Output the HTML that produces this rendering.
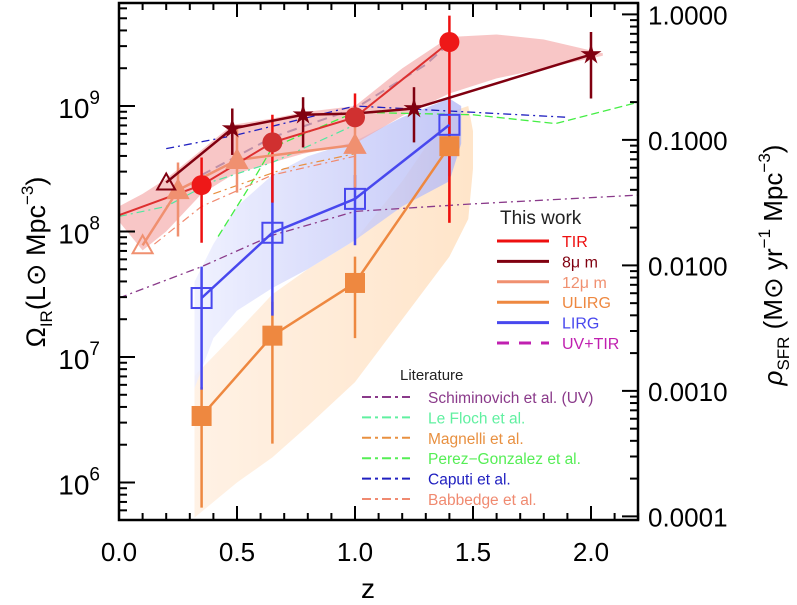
<!DOCTYPE html>
<html><head><meta charset="utf-8"><style>
html,body{margin:0;padding:0;background:#fff;}
svg{display:block;font-family:"Liberation Sans",sans-serif;}
</style></head><body>
<svg id="chart" width="797" height="605" viewBox="0 0 797 605" xmlns="http://www.w3.org/2000/svg">
<defs>
<linearGradient id="gBlue" x1="0" y1="0" x2="1" y2="0"><stop offset="0" stop-color="#eceeff"/><stop offset="1" stop-color="#b4b9f5"/></linearGradient>
<linearGradient id="gOrange" x1="0" y1="0" x2="1" y2="0"><stop offset="0" stop-color="#fff0e2"/><stop offset="1" stop-color="#ffe2c4"/></linearGradient>
</defs>
<g id="bands"></g>
<g id="lit"></g>
<g id="series"></g>
<g id="axes"></g>
<g id="legend"></g>
</svg>
<script>
// ---- data (log10 Omega_IR) ----
const tirZ=[0.0,0.35,0.65,1.0,1.4];
const tirV=[8.13,8.37,8.71,8.91,9.51];
const tirHi=[null,8.59,8.93,9.10,9.72];
const tirLo=[null,7.91,8.23,8.89,8.07];
const m8Z=[0.2,0.48,0.78,1.0,1.25,2.0];
const m8V=[8.39,8.82,8.93,8.94,8.98,9.41];
const m8Hi=[null,8.98,9.07,null,9.15,9.59];
const m8Lo=[null,8.61,8.67,null,8.71,9.06];
const m12Z=[0.1,0.25,0.5,1.0];
const m12V=[7.89,8.33,8.57,8.69];
const m12Hi=[null,8.55,8.83,8.93];
const m12Lo=[null,7.96,8.31,8.35];
const ulZ=[0.35,0.65,1.0,1.4];
const ulV=[6.53,7.17,7.59,8.68];
const ulHi=[6.76,7.44,7.80,8.9];
const ulLo=[5.80,6.31,7.15,8.07];
const liZ=[0.35,0.65,1.0,1.4];
const liV=[7.47,7.99,8.26,8.85];
const liHi=[7.72,8.45,8.45,9.06];
const liLo=[6.74,7.33,7.89,8.44];
const uvZ=[0.35,0.65,0.8,1.0,1.3,1.4];
const uvV=[8.45,8.75,8.85,8.98,9.33,9.5];
// bands
const redBandZ=[0,0.1,0.2,0.35,0.48,0.65,0.78,1.0,1.2,1.4,1.6,1.8,2.05];
const redBandHi=[8.2,8.3,8.42,8.65,8.85,8.9,8.95,9.0,9.3,9.55,9.57,9.53,9.42];
const redBandLo=[8.08,7.85,8.0,8.3,8.45,8.55,8.62,8.7,8.92,9.1,9.22,9.3,9.4];
const blueBandZ=[0.32,0.4,0.5,0.65,0.8,1.0,1.2,1.4,1.45];
const blueBandHi=[7.6,7.9,8.2,8.45,8.6,8.72,8.91,9.06,9.0];
const blueBandLo=[6.75,7.15,7.37,7.55,7.7,7.93,8.2,8.4,8.7];
const orBandZ=[0.32,0.5,0.65,0.8,1.0,1.2,1.4,1.48,1.5];
const orBandHi=[6.85,7.2,7.5,7.7,7.93,8.4,8.95,9.0,8.8];
const orBandLo=[5.72,6.0,6.2,6.45,6.8,7.3,7.8,8.1,8.5];
// literature
const schZ=[0,0.35,0.65,1.0,1.5,2.2];
const schV=[7.47,7.72,7.97,8.16,8.22,8.29];
const capZ=[0.2,0.5,1.0,1.5,1.9];
const capV=[8.66,8.77,9.0,8.95,8.91];
const perZ=[0.42,0.55,0.65,1.0,1.5,1.85,2.2];
const perV=[7.96,8.35,8.67,8.95,8.93,8.86,9.03];
const lefZ=[0.0,0.2,0.4,0.65,1.0];
const lefV=[8.12,8.2,8.4,8.55,8.85];
const babZ=[0.15,0.35,0.65,1.0];
const babV=[7.9,8.2,8.45,8.6];
const magZ=[0.4,0.7,1.0];
const magV=[8.3,8.5,8.62];
// axis ticks
const xTicks=[0.0,0.5,1.0,1.5,2.0];
const xTickLabels=["0.0","0.5","1.0","1.5","2.0"];
const yTicks=[6,7,8,9];
const rTickLabels=["1.0000","0.1000","0.0100","0.0010","0.0001"];
const rTickLogs=[0,-1,-2,-3,-4];

const L=119,R=638,T=3,B=520;
const X=z=>L+z*236;
const Y=v=>106+(9-v)*125.5;
const RY=r=>Y(r+9.73);
const NS="http://www.w3.org/2000/svg";
function mk(tag,attrs,parent){const e=document.createElementNS(NS,tag);for(const k in attrs)e.setAttribute(k,attrs[k]);parent.appendChild(e);return e;}
const gB=document.getElementById('bands'),gL=document.getElementById('lit'),gS=document.getElementById('series'),gA=document.getElementById('axes'),gG=document.getElementById('legend');

function band(zs,hi,lo,fill,op,name){
  let d='M'+zs.map((z,i)=>X(z)+','+Y(hi[i])).join('L');
  for(let i=zs.length-1;i>=0;i--)d+='L'+X(zs[i])+','+Y(lo[i]);
  const p=mk('path',{d:d+'Z',fill:fill,'fill-opacity':op},gB);
  
  
}
band(orBandZ,orBandHi,orBandLo,'url(#gOrange)',0.9,'ulirg-band');
band(blueBandZ,blueBandHi,blueBandLo,'url(#gBlue)',0.8,'lirg-band');
band(redBandZ,redBandHi,redBandLo,'#f4a8a8',0.65,'tir-band');

function line(zs,vs,color,w,dash,parent,name){
  const p=mk('polyline',{points:zs.map((z,i)=>X(z)+','+Y(vs[i])).join(' '),fill:'none',stroke:color,'stroke-width':w},parent);
  if(dash)p.setAttribute('stroke-dasharray',dash);
  
  
}
const dd='8,4,2,4';
line(schZ,schV,'#8a3a8a',1.3,dd,gL,'schiminovich-line');
line(capZ,capV,'#2020c0',1.3,dd,gL,'caputi-line');
line(perZ,perV,'#44ee44',1.3,'8,4',gL,'perez-gonzalez-line');
line(lefZ,lefV,'#50e8a0',1.2,dd,gL,'le-floch-line');
line(babZ,babV,'#f08a70',1.2,dd,gL,'babbedge-line');
line(magZ,magV,'#e89040',1.2,dd,gL,'magnelli-line');
line(uvZ,uvV,'#c090a8',2,'10,6',gL,'uv-tir-line');

function errs(zs,hi,lo,color,w,name){
  zs.forEach((z,i)=>{ if(hi[i]==null)return;
    const e=mk('line',{x1:X(z),x2:X(z),y1:Y(hi[i]),y2:Y(lo[i]),stroke:color,'stroke-width':w},gS);
    
    });
}
errs(ulZ,ulHi,ulLo,'#ee8840',2.5,'ulirg');
errs(liZ,liHi,liLo,'#4848ee',2.5,'lirg');
errs(m12Z,m12Hi,m12Lo,'#f09070',2.5,'12um');
errs(tirZ,tirHi,tirLo,'#ee1010',2.5,'tir');
errs(m8Z,m8Hi,m8Lo,'#800010',2.5,'8um');
line(ulZ,ulV,'#ee8840',2.5,null,gS,'ulirg-line');
line(liZ,liV,'#4848ee',2.5,null,gS,'lirg-line');
line(m12Z,m12V,'#f09070',2.5,null,gS,'12um-line');
line(tirZ,tirV,'#dd3030',2,null,gS,'tir-line');
line(m8Z,m8V,'#800010',2.5,null,gS,'8um-line');

ulZ.forEach((z,i)=>{const r=mk('rect',{x:X(z)-10,y:Y(ulV[i])-10,width:20,height:20,fill:'#ee8840'},gS);
 
 });
liZ.forEach((z,i)=>{const r=mk('rect',{x:X(z)-10,y:Y(liV[i])-10,width:20,height:20,fill:'none',stroke:'#4848ee','stroke-width':2},gS);
 
 });
m12Z.forEach((z,i)=>{const x=X(z),y=Y(m12V[i]);const open=i==0;
 const p=mk('polygon',{points:`${x},${y-10} ${x-10},${y+8} ${x+10},${y+8}`,fill:open?'none':'#f09070',stroke:'#f09070','stroke-width':2},gS);
 
 });
tirZ.forEach((z,i)=>{if(i==0)return;const c=mk('circle',{cx:X(z),cy:Y(tirV[i]),r:10,fill:i==3||i==2?'#d03030':'#ee1818'},gS);
 
 });
m8Z.forEach((z,i)=>{const x=X(z),y=Y(m8V[i]);
 if(i==3)return;
 if(i==0){const p=mk('polygon',{points:`${x},${y-9} ${x-9},${y+7} ${x+9},${y+7}`,fill:'none',stroke:'#800010','stroke-width':2},gS);
   
   return;}
 let pts=[];for(let k=0;k<10;k++){const a=-Math.PI/2+k*Math.PI/5;const rr=k%2?4:11;pts.push((x+rr*Math.cos(a))+','+(y+rr*Math.sin(a)));}
 const p=mk('polygon',{points:pts.join(' '),fill:'#800010'},gS);
 
 });

// axes frame
const fr=mk('rect',{x:L,y:T,width:R-L,height:B-T,fill:'none',stroke:'#000','stroke-width':2.5},gA);


for(let k=0;k<=22;k++){const x=X(k/10);const len=(k%5==0)?14:7;
 mk('line',{x1:x,x2:x,y1:B,y2:B-len,stroke:'#000','stroke-width':2},gA);
 mk('line',{x1:x,x2:x,y1:T,y2:T+len,stroke:'#000','stroke-width':2},gA);}
xTicks.forEach((t,i)=>{const tx=mk('text',{x:X(t),y:561,'font-size':26,'text-anchor':'middle',fill:'#000'},gA);tx.textContent=xTickLabels[i];
 
 });
for(let d=5;d<=9;d++)for(let m=1;m<=9;m++){const v=d+Math.log10(m);const y=Y(v);if(y<T||y>B)continue;
 mk('line',{x1:L,x2:L+(m==1?16:8),y1:y,y2:y,stroke:'#000','stroke-width':2},gA);}
yTicks.forEach(t=>{const tx=mk('text',{x:100,y:Y(t)+12,'font-size':28,'text-anchor':'end',fill:'#000'},gA);
 tx.innerHTML='10<tspan font-size="19" dy="-14">'+t+'</tspan>';
 
 });
for(let d=-5;d<=0;d++)for(let m=1;m<=9;m++){const y=RY(d+Math.log10(m));if(y<T||y>B)continue;
 mk('line',{x1:R,x2:R-(m==1?16:8),y1:y,y2:y,stroke:'#000','stroke-width':2},gA);}
rTickLogs.forEach((t,i)=>{const tx=mk('text',{x:648,y:RY(t)+10,'font-size':26,fill:'#000'},gA);tx.textContent=rTickLabels[i];
 
 });
let t=mk('text',{x:368,y:598,'font-size':28,'text-anchor':'middle'},gA);t.textContent='z';


t=mk('text',{x:0,y:0,'font-size':27,'text-anchor':'middle',transform:'translate(45,262) rotate(-90)'},gA);
t.innerHTML='Ω<tspan font-size="17" dy="7">IR</tspan><tspan dy="-7">(L</tspan><tspan>⊙</tspan> Mpc<tspan font-size="17" dy="-12">−3</tspan><tspan dy="12">)</tspan>';


t=mk('text',{x:0,y:0,'font-size':26,'text-anchor':'middle',transform:'translate(782,265) rotate(-90)'},gA);
t.innerHTML='<tspan font-style="italic">ρ</tspan><tspan font-size="17" dy="7">SFR</tspan><tspan dy="-7"> (M⊙ yr</tspan><tspan font-size="17" dy="-12">−1</tspan><tspan dy="12"> Mpc</tspan><tspan font-size="17" dy="-12">−3</tspan><tspan dy="12">)</tspan>';



// legend
t=mk('text',{x:500,y:224,'font-size':19,fill:'#222'},gG);t.textContent='This work';


const lw=[['TIR','#ee1010',null],['8μ m','#800010',null],['12μ m','#f09070',null],['ULIRG','#ee8840',null],['LIRG','#4848ee',null],['UV+TIR','#c020b0','12,10']];
lw.forEach((e,i)=>{const y=241+i*20.4;const ln=mk('line',{x1:497,x2:549,y1:y,y2:y,stroke:e[1],'stroke-width':3},gG);
 if(e[2])ln.setAttribute('stroke-dasharray',e[2]);
 
 
 const tx=mk('text',{x:562,y:y+6,'font-size':16,fill:e[1]},gG);tx.textContent=e[0];
 
 });
t=mk('text',{x:400,y:380,'font-size':15,fill:'#222'},gG);t.textContent='Literature';


const lt=[['Schiminovich et al. (UV)','#8a3a8a'],['Le Floch et al.','#60f0a0'],['Magnelli et al.','#e89040'],['Perez−Gonzalez et al.','#55ee55'],['Caputi et al.','#2020c0'],['Babbedge et al.','#f08a70']];
lt.forEach((e,i)=>{const y=397+i*20.4;const ln=mk('line',{x1:362,x2:410,y1:y,y2:y,stroke:e[1],'stroke-width':2,'stroke-dasharray':'9,4,3,4'},gG);
 
 
 const tx=mk('text',{x:428,y:y+6,'font-size':15.5,fill:e[1]},gG);tx.textContent=e[0];
 
 });
</script>
</body></html>
